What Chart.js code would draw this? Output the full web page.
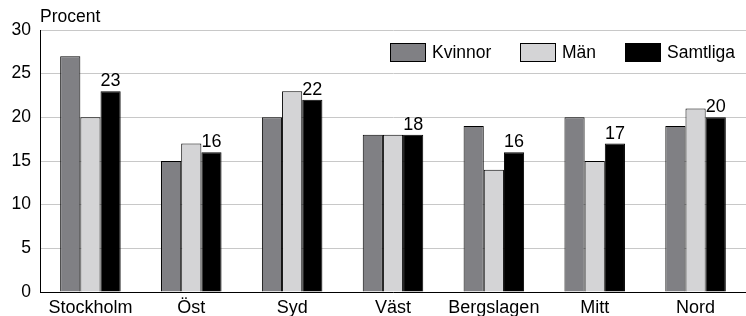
<!DOCTYPE html>
<html>
<head>
<meta charset="utf-8">
<script src="https://cdn.jsdelivr.net/npm/chart.js@4/dist/chart.umd.min.js"></script>
<style>
  html, body { margin: 0; padding: 0; background: #fff; }
  #wrap { width: 746px; height: 316px; }
</style>
</head>
<body>
<div id="wrap"><canvas id="chart"></canvas></div>
<script>
// ── Data ──────────────────────────────────────────────────────
const regions   = ['Stockholm', 'Öst', 'Syd', 'Väst', 'Bergslagen', 'Mitt', 'Nord'];
const kvinnor   = [27, 15, 20, 18, 19, 20, 19];
const man       = [20, 17, 23, 18, 14, 15, 21];
const samtliga  = [23, 16, 22, 18, 16, 17, 20];
const yTicks    = [0, 5, 10, 15, 20, 25, 30];

const FONT = '"Liberation Sans", Arial, Helvetica, sans-serif';

// Axis title top-left
const titlePlugin = {
  id: 'ytitle',
  afterDraw(chart) {
    const ctx = chart.ctx;
    ctx.save();
    ctx.font = '17.5px ' + FONT;
    ctx.fillStyle = '#000';
    ctx.textAlign = 'left';
    ctx.textBaseline = 'alphabetic';
    ctx.fillText('Procent', 40, 22);
    ctx.restore();
  },
};

// Value labels above the "Samtliga" bars
const valueLabels = {
  id: 'valueLabels',
  afterDatasetsDraw(chart) {
    const ctx  = chart.ctx;
    const meta = chart.getDatasetMeta(2);
    ctx.save();
    ctx.font = '18px ' + FONT;
    ctx.fillStyle = '#000';
    ctx.textAlign = 'center';
    ctx.textBaseline = 'alphabetic';
    meta.data.forEach((bar, i) => {
      ctx.fillText(String(samtliga[i]), bar.x, bar.y - 5);
    });
    ctx.restore();
  },
};

// Legend inside the plot, top right
const legendPlugin = {
  id: 'insideLegend',
  afterDraw(chart) {
    const ctx = chart.ctx;
    const xs  = [390, 520, 625];
    ctx.save();
    ctx.font = '17.5px ' + FONT;
    ctx.textBaseline = 'middle';
    chart.data.datasets.forEach((ds, i) => {
      ctx.fillStyle = ds.backgroundColor;
      ctx.fillRect(xs[i] + 0.5, 43.5, 35, 18);
      ctx.strokeStyle = '#000';
      ctx.lineWidth = 1;
      ctx.strokeRect(xs[i] + 0.5, 43.5, 35, 18);
      ctx.fillStyle = '#000';
      ctx.fillText(ds.label, xs[i] + 42, 53);
    });
    ctx.restore();
  },
};

new Chart(document.getElementById('chart'), {
  type: 'bar',
  data: {
    labels: regions,
    datasets: [
      { label: 'Kvinnor',  data: kvinnor,  backgroundColor: '#808084' },
      { label: 'Män',      data: man,      backgroundColor: '#d4d4d6' },
      { label: 'Samtliga', data: samtliga, backgroundColor: '#000000' },
    ].map(d => Object.assign(d, {
      borderColor: '#000',
      borderWidth: 1,
      categoryPercentage: 0.6,
      barPercentage: 1.0,
    })),
  },
  options: {
    responsive: true,
    maintainAspectRatio: false,
    animation: false,
    layout: { padding: { top: 30, right: 0, bottom: 0, left: 0 } },
    plugins: {
      legend: { display: false },
      tooltip: { enabled: false },
    },
    scales: {
      x: {
        grid: { display: false, drawTicks: false },
        border: { color: '#000', width: 1 },
        ticks: { color: '#000', font: { family: FONT, size: 18 }, padding: 5, maxRotation: 0, autoSkip: false },
        afterFit: s => { s.height = 24; },
      },
      y: {
        min: 0,
        max: 30,
        afterBuildTicks: s => { s.ticks = yTicks.map(v => ({ value: v })); },
        grid: { color: '#c8c8c8', lineWidth: 1, drawTicks: false },
        border: { color: '#000', width: 1 },
        ticks: { color: '#000', font: { family: FONT, size: 17.5 }, padding: 9 },
        afterFit: s => { s.width = 40; },
      },
    },
  },
  plugins: [titlePlugin, valueLabels, legendPlugin],
});
</script>
</body>
</html>
